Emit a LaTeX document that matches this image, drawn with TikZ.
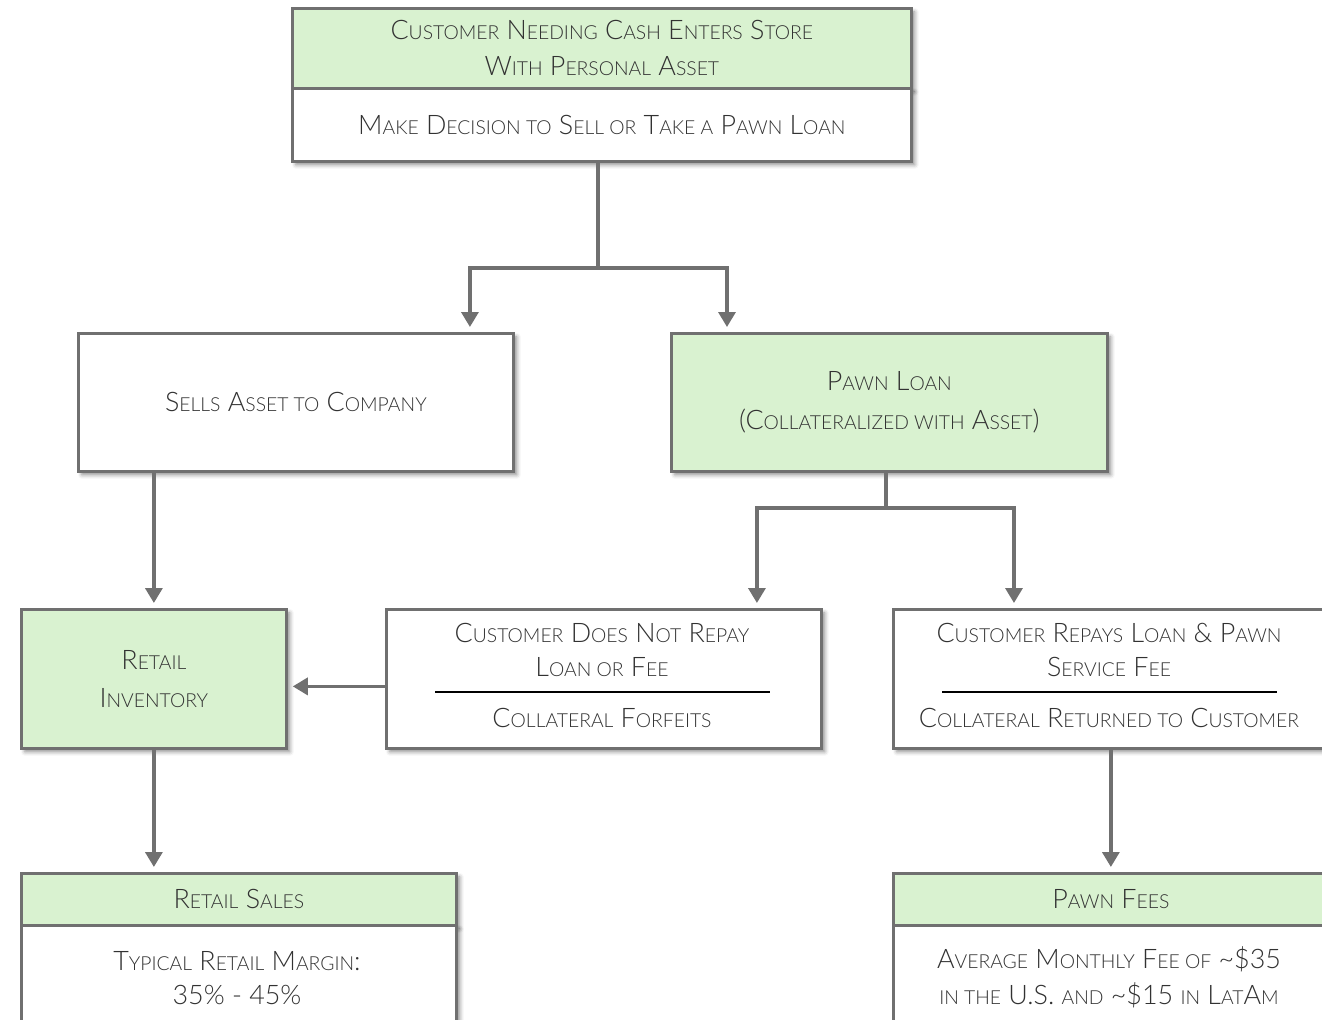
\documentclass[tikz,border=0pt]{standalone}
\usepackage{fontspec}
\setmainfont{Lato Light}
\usetikzlibrary{arrows.meta,shadows.blur}
\definecolor{boxgreen}{RGB}{217,242,208}
\definecolor{edgegray}{RGB}{112,112,112}
\definecolor{textgray}{RGB}{50,50,50}
\newcommand\sm[1]{{\fontsize{11}{12}\selectfont #1}}

\begin{document}
\begin{tikzpicture}[x=0.02cm,y=-0.02cm,
		box/.style={draw=edgegray,line width=1.6pt,fill=white,inner sep=0pt,anchor=north west,minimum width=8.7cm,
			blur shadow={shadow xshift=0.07cm,shadow yshift=-0.07cm,shadow blur radius=0.08cm,shadow opacity=45}},
		greenbox/.style={box,fill=boxgreen},
		txt/.style={text=textgray,align=center,font=\fontsize{15.3}{20.5}\selectfont,inner sep=0pt},
		link/.style={draw=edgegray,line width=1.9pt},
		arr/.style={link,-{Triangle[width=0.34cm,length=0.3cm]},shorten >=0.1cm}]
		\path[use as bounding box,clip] (0,0) rectangle (1322,1020);
		\node[greenbox,txt,minimum width=12.38cm,minimum height=1.6cm] (enter) at (291,7) {C\sm{USTOMER} N\sm{EEDING} C\sm{ASH} E\sm{NTERS} S\sm{TORE}\\W\sm{ITH} P\sm{ERSONAL} A\sm{SSET}};
		\node[box,txt,minimum width=12.38cm,minimum height=1.46cm] (decide) at (291,87) {M\sm{AKE} D\sm{ECISION TO} S\sm{ELL OR} T\sm{AKE A} P\sm{AWN} L\sm{OAN}};
		\node[box,txt,minimum height=2.76cm] (sells) at (77,332) {S\sm{ELLS} A\sm{SSET TO} C\sm{OMPANY}};
		\node[greenbox,txt,minimum width=8.72cm,minimum height=2.76cm] (pawn) at (670,332) {P\sm{AWN} L\sm{OAN}\\[2pt](C\sm{OLLATERALIZED WITH} A\sm{SSET})};
		\node[greenbox,txt,minimum width=5.3cm,minimum height=2.78cm] (inventory) at (20,608) {R\sm{ETAIL}\\[1pt]I\sm{NVENTORY}};
		\node[box,minimum height=2.78cm] (norepay) at (385,608) {};
		\node[box,minimum height=2.78cm] (repays) at (892,608) {};
		\node[greenbox,txt,minimum height=1.04cm] (salestop) at (20,872) {R\sm{ETAIL} S\sm{ALES}};
		\node[box,minimum height=2.4cm] (salesbody) at (20,924) {};
		\node[greenbox,txt,minimum height=1.04cm] (feestop) at (892,872) {P\sm{AWN} F\sm{EES}};
		\node[box,minimum height=2.4cm] (feesbody) at (892,924) {};

		\node[txt,font=\fontsize{15.3}{19}\selectfont] (norepaytxt) at (602,650) {C\sm{USTOMER} D\sm{OES} N\sm{OT} R\sm{EPAY}\\L\sm{OAN OR} F\sm{EE}};
		\node[txt] (forfeit) at (602,718) {C\sm{OLLATERAL} F\sm{ORFEITS}};
		\draw[black,line width=0.9pt] (435,692) -- (770,692);
		\node[txt,font=\fontsize{15.3}{19}\selectfont] (repaystxt) at (1109,650) {C\sm{USTOMER} R\sm{EPAYS} L\sm{OAN} \& P\sm{AWN}\\S\sm{ERVICE} F\sm{EE}};
		\node[txt] (returned) at (1109,718) {C\sm{OLLATERAL} R\sm{ETURNED TO} C\sm{USTOMER}};
		\draw[black,line width=0.9pt] (942,692) -- (1277,692);
		\node[txt,font=\fontsize{15.3}{19}\selectfont] (margin) at (237,978) {T\sm{YPICAL} R\sm{ETAIL} M\sm{ARGIN}:\\35\% - 45\%};
		\node[txt] (avgfee) at (1109,977) {A\sm{VERAGE} M\sm{ONTHLY} F\sm{EE OF} \textasciitilde\$35\\\sm{IN THE} U.S. \sm{AND} \textasciitilde\$15 \sm{IN} L\sm{AT}A\sm{M}};

		\coordinate (split1) at (598,268);
		\coordinate (split2) at (886,508);
		\draw[link] (split1 |- decide.south) -- (split1);
		\draw[arr] (split1) -| ([xshift=7.86cm]sells.north west);
		\draw[arr] (split1) -| ([xshift=1.14cm]pawn.north west);
		\draw[link] (split2 |- pawn.south) -- (split2);
		\draw[arr] (split2) -| ([xshift=7.44cm]norepay.north west);
		\draw[arr] (split2) -| ([xshift=2.44cm]repays.north west);
		\draw[arr] (inventory.north |- sells.south) -- (inventory.north);
		\draw[arr] ([yshift=-0.15cm]norepay.west) -- ([yshift=-0.15cm]inventory.east);
		\draw[arr] (inventory.south) -- (inventory.south |- salestop.north);
		\draw[arr] (repays.south) -- (feestop.north);
	\end{tikzpicture}
\end{document}
